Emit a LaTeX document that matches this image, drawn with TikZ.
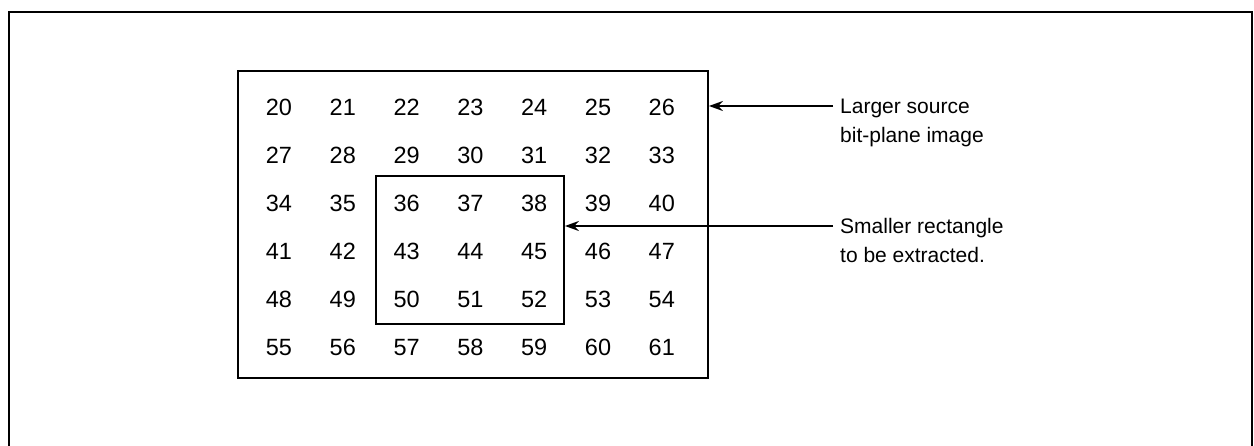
\documentclass[tikz,border=0pt]{standalone}
\usepackage{fontspec}
\setmainfont{Liberation Sans}
\usetikzlibrary{arrows.meta}
\begin{document}
\begin{tikzpicture}[x=1pt,y=-1pt,
  cell/.style={inner sep=0pt, anchor=base, font=\fontsize{23.5}{28}\selectfont},
  box/.style={draw, line width=1.8pt, inner sep=0pt},
  note/.style={inner sep=0pt, anchor=north west, align=left, font=\fontsize{21}{28.5}\selectfont},
  pointer/.style={line width=1.7pt, -{Stealth[length=14pt,width=10pt]}}]
  \useasboundingbox (0,0) rectangle (1254,446);
  % open frame around the figure
  \draw[line width=2.6pt] (9,460) -- (9,12) -- (1252,12) -- (1252,460);
  % source image and the sub-rectangle
  \node[box, minimum width=470pt, minimum height=307pt] (big) at (473,224.5) {};
  \node[box, minimum width=188pt, minimum height=148pt] (small) at (470,250) {};
  % grid of pixel numbers, 7 columns by 6 rows
  \foreach \r in {0,...,5}{
    \foreach \c in {0,...,6}{
      \pgfmathtruncatemacro{\v}{20+7*\r+\c}
      \node[cell] (n\v) at (279+63.8*\c, 115.5+48*\r) {\v};
    }
  }
  % callouts
  \node[note] (lab1) at (840,99) {Larger source\\bit-plane image};
  \node[note] (lab2) at (840,218.5) {Smaller rectangle\\to be extracted.};
  \coordinate (s1) at (833,106);
  \coordinate (s2) at (833,226);
  \draw[pointer] (s1) -- (big.east |- s1);
  \draw[pointer] (s2) -- (small.east |- s2);
\end{tikzpicture}
\end{document}
